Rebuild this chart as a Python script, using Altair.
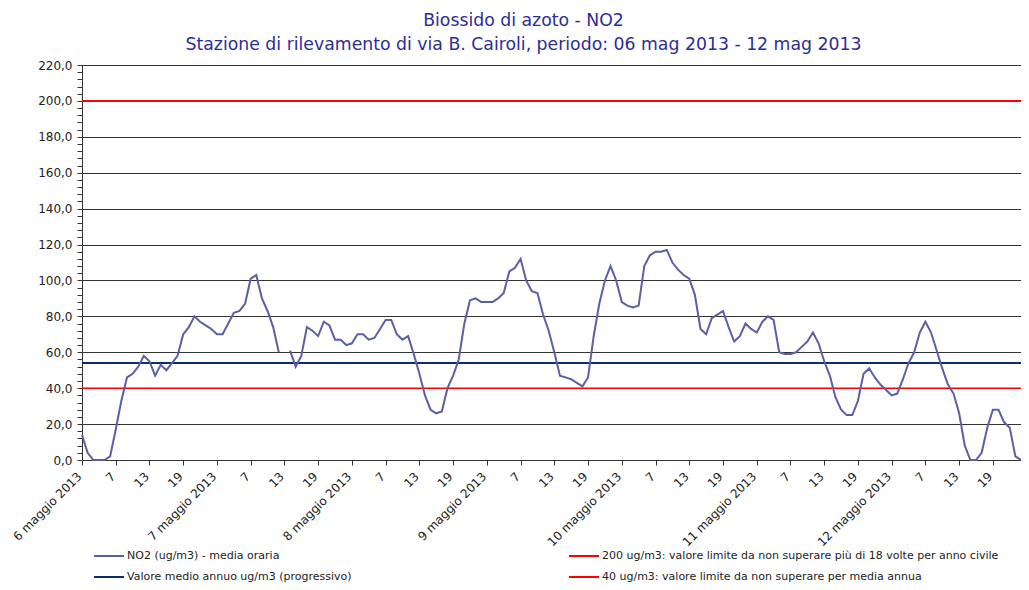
import altair as alt
import pandas as pd

# ---- data ----
no2 = [14, 4, 0, 0, 0, 2, 17, 33, 46, 48, 52, 58, 55, 47, 53, 50, 54, 58, 70, 74,
       80, 77, 75, 73, 70, 70, 76, 82, 83, 87, 101, 103, 90, 83, 74, 60, None, 61, 52, 58,
       74, 72, 69, 77, 75, 67, 67, 64, 65, 70, 70, 67, 68, 73, 78, 78, 70, 67, 69, 59,
       48, 36, 28, 26, 27, 40, 47, 56, 76, 89, 90, 88, 88, 88, 90, 93, 105, 107, 112, 100,
       94, 93, 81, 72, 60, 47, 46, 45, 43, 41, 46, 69, 87, 100, 108, 100, 88, 86, 85, 86,
       108, 114, 116, 116, 117, 110, 106, 103, 101, 92, 73, 70, 79, 81, 83, 74, 66, 69, 76, 73,
       71, 77, 80, 78, 60, 59, 59, 60, 63, 66, 71, 65, 55, 47, 35, 28, 25, 25, 33, 48,
       51, 46, 42, 39, 36, 37, 45, 54, 60, 71, 77, 71, 61, 51, 42, 37, 26, 8, 0, 0,
       4, 18, 28, 28, 21, 18, 2, 0]
hours = list(range(len(no2)))

day_labels = ["6 maggio 2013", "7 maggio 2013", "8 maggio 2013", "9 maggio 2013",
              "10 maggio 2013", "11 maggio 2013", "12 maggio 2013"]
x_tick_values = list(range(0, 168, 6))
y_tick_values = list(range(0, 221, 4))

# legend order: left column first (NO2, mean), then right column (200, 40)
series_names = ["NO2 (ug/m3)  - media oraria",
                "Valore medio annuo ug/m3 (progressivo)",
                "200 ug/m3: valore limite da non superare più di 18 volte per anno civile",
                "40 ug/m3: valore limite da non superare per media annua"]
series_colors = ["#5c5fa4", "#0b2f6b", "#ff0000", "#ff0000"]

ref_values = [200, 54, 40]
ref_series = [series_names[2], series_names[1], series_names[3]]
ref_widths = [2, 2, 1.5]

title_lines = ["Biossido di azoto - NO2",
               "Stazione di rilevamento di via B. Cairoli, periodo: 06 mag 2013 - 12 mag 2013"]

# ---- build ----
line_df = pd.DataFrame({"hour": hours, "value": no2, "series": series_names[0]})
rule_df = pd.DataFrame({"value": ref_values, "series": ref_series, "w": ref_widths})

days_js = "[" + ",".join("'" + d + "'" for d in day_labels) + "]"
x_label_expr = ("datum.value % 24 == 0 ? " + days_js + "[floor(datum.value / 24)]"
                " : toString(datum.value % 24 + 1)")

x_enc = alt.X("hour:Q",
              scale=alt.Scale(domain=[0, 167], nice=False, zero=False),
              axis=alt.Axis(values=x_tick_values, labelExpr=x_label_expr, title=None,
                            grid=False, labelAngle=-45, labelAlign="right",
                            labelBaseline="middle", labelFont="DejaVu Sans",
                            labelFontSize=12, labelColor="#222222", labelPadding=9,
                            labelOffset=-3,
                            tickSize=5, tickColor="#333333", domainColor="#333333",
                            labelOverlap=False, labelFlush=False))

y_scale = alt.Scale(domain=[0, 220], nice=False, zero=True)
y_axis = alt.Axis(values=y_tick_values, title=None,
                  labelExpr="datum.value % 20 == 0 ? replace(format(datum.value, '.1f'), '.', ',') : ''",
                  labelFont="DejaVu Sans", labelFontSize=12, labelColor="#222222",
                  labelPadding=5, labelOverlap=False, labelFlush=False,
                  tickSize=5, tickColor="#333333", domainColor="#333333",
                  grid=True, gridColor="#333333", gridWidth=1,
                  gridOpacity={"condition": {"test": "datum.value % 20 == 0 && datum.value > 0",
                                             "value": 1}, "value": 0})

color_enc = alt.Color("series:N",
                      scale=alt.Scale(domain=series_names, range=series_colors),
                      legend=alt.Legend(title=None, orient="none", legendX=11, legendY=475,
                                        columns=2, columnPadding=213, rowPadding=-4,
                                        symbolType="stroke", symbolSize=900,
                                        symbolStrokeWidth=2, labelFont="DejaVu Sans",
                                        labelFontSize=11, labelColor="#222222",
                                        labelLimit=600, labelOffset=2, padding=0))

rules = alt.Chart(rule_df).mark_rule().encode(
    y=alt.Y("value:Q", scale=y_scale, axis=y_axis),
    color=color_enc,
    size=alt.Size("w:Q", scale=None, legend=None),
)

line = alt.Chart(line_df).mark_line(strokeWidth=2).encode(
    x=x_enc,
    y=alt.Y("value:Q", scale=y_scale, axis=y_axis),
    color=color_enc,
)

chart = alt.layer(rules, line).properties(
    width=939, height=395,
    autosize=alt.AutoSizeParams(type="none"),
    padding={"left": 74, "top": 57, "right": 0, "bottom": 122},
    title=alt.TitleParams(text=title_lines, font="DejaVu Sans", fontSize=17.3,
                          fontWeight="normal", color="#2d2d96", anchor="middle",
                          frame="group", dx=-28, offset=6, lineHeight=24),
).configure_view(stroke=None)

chart.save("out.html", embed_options={"renderer": "svg", "actions": False})
